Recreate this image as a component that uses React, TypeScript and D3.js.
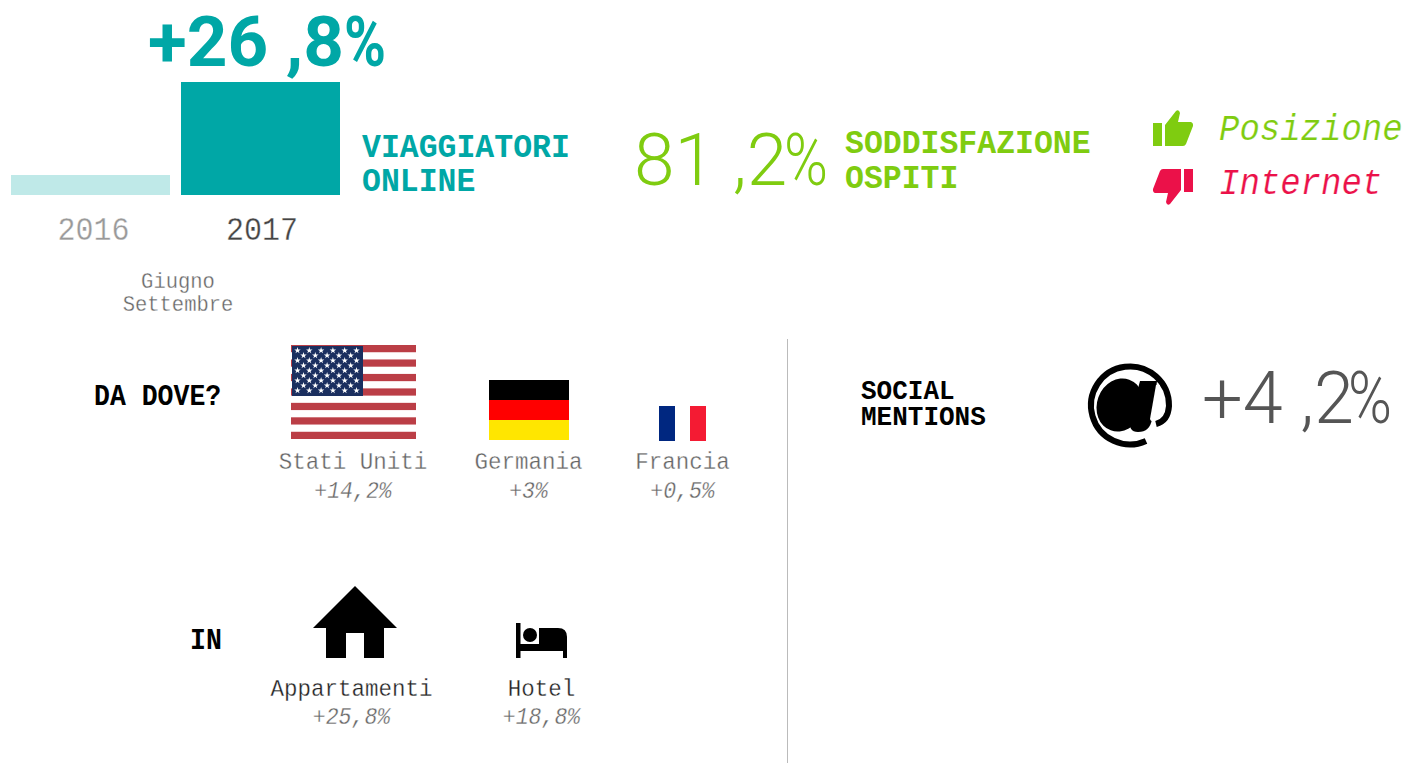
import React from "react";
import * as d3 from "d3";

// data
const years = ["2016", "2017"];
const travellers = [100, 126.8]; // 2017 is +26,8% on 2016
const travellersLabel = "+26 ,8";
const satisfaction = "81 ,2";
const socialMentions = "+4 ,2";
const countries = ["Stati Uniti", "Germania", "Francia"];
const countryChanges = ["+14,2%", "+3%", "+0,5%"];
const stays = ["Appartamenti", "Hotel"];
const stayChanges = ["+25,8%", "+18,8%"];

const TEAL = "#00a7a6";
const GREEN = "#7fcc10";
const RED = "#eb1149";
const GREY = "#666";
const FONT = "Roboto, sans-serif";
const MONO = "'Liberation Mono', monospace";

// taller than Liberation Mono by default, and a thin white stroke makes the regular weight read as light
const Mono = ({ x, y, size, text, anchor = "start", fill = "#000", weight = 400, italic = false, thin = 0.3 }: any) => (
  <text
    transform={`translate(${x},${y}) scale(1,1.08)`}
    fontSize={size}
    fontFamily={MONO}
    fontWeight={weight}
    fontStyle={italic ? "italic" : "normal"}
    fill={fill}
    stroke={weight === 400 ? "#fff" : "none"}
    strokeWidth={thin}
    textAnchor={anchor}
  >
    {text}
  </text>
);

// the percent sign is narrower in the reference than in Roboto
const Big = ({ x, y, size, weight, fill, text, pctX, pctW }: any) => (
  <text x={x} y={y} fontSize={size} fontWeight={weight} fontFamily={FONT} fill={fill}>
    {text}
    <tspan x={pctX} textLength={pctW} lengthAdjust="spacingAndGlyphs">%</tspan>
  </text>
);

const Thumb = ({ x, y, fill, flip = false }: any) => (
  <g transform={flip ? `translate(${x + 40},${y + 36}) scale(-1,-1)` : `translate(${x},${y})`} fill={fill}>
    <rect x={0} y={13} width={9} height={23} />
    <path d="M12 36V15L23 1Q26 -1 27 3L25 12H38Q40.500 13 40 16L33 34Q32 36 30 36Z" />
  </g>
);

const UsFlag = () => {
  const x = 291, y = 345, w = 125, h = 94;
  const stripeH = h / 13;
  const star = d3.symbol(d3.symbolStar, 13)() as string;
  const rows = d3.range(9);
  return (
    <g>
      {d3.range(0, 13, 2).map((i) => (
        <rect key={i} x={x} y={y + i * stripeH} width={w} height={stripeH} fill="#bb3e46" />
      ))}
      <rect x={292} y={346} width={71} height={50} fill="#1b2f5f" />
      {rows.map((r) =>
        d3.range(r % 2 === 0 ? 6 : 5).map((c) => (
          <path key={`${r}-${c}`} d={star} fill="#fff" transform={`translate(${297.500 + (r % 2 === 0 ? 0 : 6) + c * 11.800},${350.500 + r * 5})`} />
        ))
      )}
    </g>
  );
};

export default function App() {
  const x = d3.scaleBand().domain(years).range([11, 340]).paddingInner(0.0647);
  // truncated axis, the bars only show the gap between the two years
  const y = d3.scaleLinear().domain([94.24, 126.8]).range([195, 82]);

  return (
    <svg width={1422} height={763} style={{ position: "absolute", left: 0, top: 0, display: "block" }}>
      <rect width={1422} height={763} fill="#fff" />

      {/* top left: travellers */}
      <Big x={148} y={66} size={71} weight={700} fill={TEAL} text={travellersLabel} pctX={344} pctW={42} />
      {years.map((d, i) => (
        <rect key={d} x={x(d)} y={y(travellers[i])} width={x.bandwidth()} height={195 - y(travellers[i])} fill={i === 0 ? "#bfe9e8" : TEAL} />
      ))}
      <Mono x={93.500} y={240} size={30} text={years[0]} anchor="middle" fill="#999" />
      <Mono x={262} y={240} size={30} text={years[1]} anchor="middle" fill="#444" />
      <Mono x={178} y={288} size={20.500} text="Giugno" anchor="middle" fill={GREY} />
      <Mono x={178} y={311} size={20.500} text="Settembre" anchor="middle" fill={GREY} />
      <Mono x={362} y={157} size={31.500} text="VIAGGIATORI" weight={700} fill={TEAL} />
      <Mono x={362} y={191} size={31.500} text="ONLINE" weight={700} fill={TEAL} />

      {/* satisfaction */}
      <Big x={634} y={185} size={73} weight={300} fill={GREEN} text={satisfaction} pctX={784} pctW={44} />
      <Mono x={845} y={153} size={31.500} text="SODDISFAZIONE" weight={700} fill={GREEN} />
      <Mono x={845} y={188} size={31.500} text="OSPITI" weight={700} fill={GREEN} />

      <Thumb x={1153} y={110} fill={GREEN} />
      <Thumb x={1153} y={169} fill={RED} flip />
      <Mono x={1219} y={140} size={34} text="Posizione" italic fill={GREEN} thin={0.2} />
      <Mono x={1219} y={194} size={34} text="Internet" italic fill={RED} thin={0.2} />

      {/* where from */}
      <Mono x={94} y={405} size={26.500} text="DA DOVE?" weight={700} />
      <UsFlag />
      <g>
        <rect x={489} y={380} width={80} height={20} fill="#000" />
        <rect x={489} y={400} width={80} height={20} fill="#f00" />
        <rect x={489} y={420} width={80} height={20} fill="#ffe600" />
      </g>
      <g>
        <rect x={659} y={406} width={16} height={35} fill="#002780" />
        <rect x={690} y={406} width={16} height={35} fill="#f41b33" />
      </g>
      {countries.map((c, i) => {
        const cx = [353, 528.500, 682.500][i];
        return (
          <g key={c}>
            <Mono x={cx} y={469} size={22.500} text={c} anchor="middle" fill={GREY} />
            <Mono x={cx} y={498} size={21.500} text={countryChanges[i]} anchor="middle" italic fill={GREY} />
          </g>
        );
      })}

      {/* where to */}
      <Mono x={190} y={649} size={26.500} text="IN" weight={700} />
      <path d="M355 586L397 628H384V658H364V633H346V658H326V628H313Z" fill="#000" />
      <g fill="#000">
        <rect x={516} y={623} width={4.500} height={35} />
        <rect x={516} y={644} width={51} height={7} />
        <rect x={563} y={640} width={4} height={18} />
        <path d="M539 628H558Q567 628 567 637V651H539Z" />
        <circle cx={530} cy={635} r={7} />
      </g>
      {stays.map((s, i) => {
        const cx = [351.500, 541.500][i];
        return (
          <g key={s}>
            <Mono x={cx} y={696} size={22.500} text={s} anchor="middle" fill="#222" />
            <Mono x={cx} y={724} size={21.500} text={stayChanges[i]} anchor="middle" italic fill={GREY} />
          </g>
        );
      })}

      <line x1={787.500} x2={787.500} y1={339} y2={763} stroke="#bbb" strokeWidth={1} />

      {/* social */}
      <Mono x={861} y={399} size={26} text="SOCIAL" weight={700} />
      <Mono x={861} y={424.500} size={26} text="MENTIONS" weight={700} />
      <g>
        <path d="M1146 441A39 39 0 1 1 1169 406Q1168 421 1156 424" fill="none" stroke="#000" strokeWidth={6} />
        <ellipse cx={1120} cy={405} rx={23} ry={27} fill="#000" transform="rotate(20 1120 405)" />
        <path d="M1140 381H1157L1152 419Q1150 432 1138 432Q1128 432 1130 419Z" fill="#000" />
        <path d="M1156 385L1150 419Q1152 425 1157 413L1160 385Z" fill="#fff" />
      </g>
      <Big x={1202} y={423} size={72} weight={300} fill="#555" text={socialMentions} pctX={1348} pctW={44} />
    </svg>
  );
}
